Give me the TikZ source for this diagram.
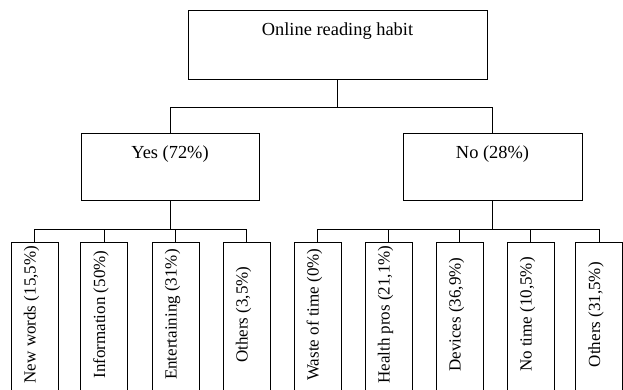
\documentclass[tikz,border=0pt]{standalone}
\usepackage{fontspec}
\setmainfont{Liberation Serif}
\tikzset{
  catbox/.style={draw, inner sep=0pt, minimum width=#1, minimum height=67pt},
  leafbox/.style={draw, inner sep=0pt, minimum width=47pt, minimum height=160pt},
  toptext/.style={anchor=center, yshift=-21pt, font=\fontsize{18.4}{22}\selectfont},
  sidetext/.style={anchor=center, xshift=-3pt, yshift=-73pt, rotate=90, font=\fontsize{17}{20}\selectfont}
}

\begin{document}
\begin{tikzpicture}[x=1pt, y=-1pt, line width=0.8pt]
\useasboundingbox (0,0) rectangle (623,389);
\clip (0,0) rectangle (623,389);
%\draw [very thin, gray] (0,0) grid[step=50] (623,389);
\node [catbox=299pt, minimum height=69pt, label={[toptext]north:Online reading habit}] (habit) at (337.5,44.5) {};
\node [catbox=178pt, label={[toptext]north:Yes (72\%)}] (yes) at (170,166.5) {};
\node [catbox=179pt, label={[toptext]north:No (28\%)}] (no) at (492.5,166.5) {};
\foreach \x/\t [count=\i] in {34.5/{New words (15,5\%)}, 104/{Information (50\%)}, 175.5/{Entertaining (31\%)}, 246.5/{Others (3,5\%)}}
  \node [leafbox, label={[sidetext]north:\t}] (y\i) at (\x,322) {};
\foreach \x/\t [count=\i] in {317.5/{Waste of time (0\%)}, 388.5/{Health pros (21,1\%)}, 459.5/{Devices (36,9\%)}, 530.5/{No time (10,5\%)}, 599/{Others (31,5\%)}}
  \node [leafbox, label={[sidetext]north:\t}] (n\i) at (\x,322) {};
\draw (habit.south) -- ++(0,28) coordinate (jtop);
\draw (yes.north) |- (jtop) -| (no.north);
\draw (yes.south) -- ++(0,29) coordinate (jyes);
\draw (y1.north) |- (jyes) -| (y4.north);
\foreach \i in {2,3} \draw (y\i.north) -- (y\i.north |- jyes);
\draw (no.south) -- ++(0,29) coordinate (jno);
\draw (n1.north) |- (jno) -| (n5.north);
\foreach \i in {2,3,4} \draw (n\i.north) -- (n\i.north |- jno);
\end{tikzpicture}
\end{document}
